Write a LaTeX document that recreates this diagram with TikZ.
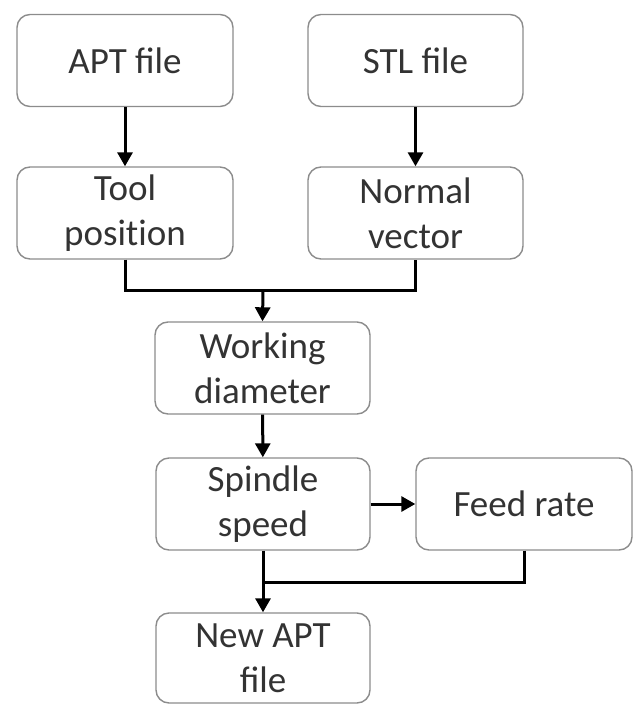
\documentclass[tikz,border=0pt]{standalone}
\usepackage{fontspec}
\setmainfont{Carlito}
\usetikzlibrary{arrows.meta}
\definecolor{boxline}{HTML}{8C8C8C}
\definecolor{txt}{HTML}{333333}
\begin{document}
\begin{tikzpicture}[x=1pt,y=-1pt,
  box/.style={draw=boxline,line width=1.4pt,rounded corners=13pt,fill=white,
    minimum height=92pt,inner sep=0pt,align=center,text=txt,
    font=\fontsize{37}{45}\selectfont},
  conn/.style={line width=3pt,black},
  arr/.style={conn,-{Triangle[length=14pt,width=15pt]}}]
\useasboundingbox (0,0) rectangle (633,704);
\node[box,minimum width=216pt] (apt) at (125,60.5) {APT file};
\node[box,minimum width=215pt] (stl) at (415.5,60.5) {STL file};
\node[box,minimum width=216pt] (tool) at (125,213) {Tool\\posit\kern0pt ion};
\node[box,minimum width=215pt] (normal) at (415.5,213) {Normal\\vector};
\node[box,minimum width=215pt] (work) at (262.5,368) {Working\\diameter};
\node[box,minimum width=214pt] (spindle) at (263,504) {Spindle\\speed};
\node[box,minimum width=216pt] (feed) at (524,504) {Feed rate};
\node[box,minimum width=214pt,minimum height=90pt] (newapt) at (263,658) {New APT\\file};
\coordinate (m) at (263,290);
\coordinate (j) at (263,582);
\draw[arr] (apt) -- (tool);
\draw[arr] (stl.south -| normal.south) -- (normal.north);
\draw[conn,line join=miter] (tool.south) -- (tool.south |- m) -- (normal.south |- m) -- (normal.south);
\draw[arr] (m) -- (work.north);
\draw[arr] (work) -- (spindle);
\draw[arr] (spindle.east) -- (feed.west);
\draw[arr] (spindle) -- (newapt);
\draw[conn,line join=miter] (feed.south) -- (feed.south |- j) -- (j);
\end{tikzpicture}
\end{document}
